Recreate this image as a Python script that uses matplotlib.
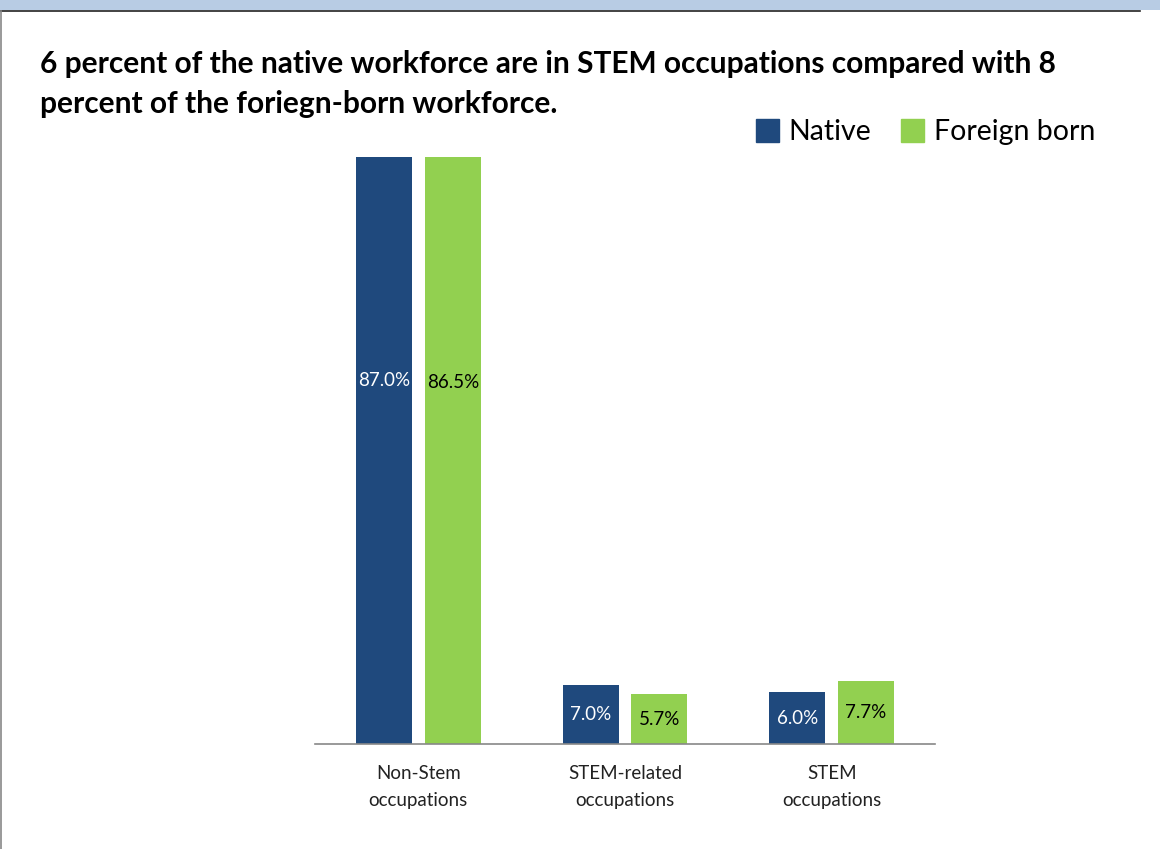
import matplotlib
matplotlib.use("Agg")
import matplotlib.pyplot as plt
from matplotlib.patches import Rectangle
from matplotlib.lines import Line2D

categories = ["Non-Stem\noccupations", "STEM-related\noccupations", "STEM\noccupations"]
native = [87.0, 7.0, 6.0]
foreign = [86.5, 5.7, 7.7]
series_names = ["Native", "Foreign born"]
title = "6 percent of the native workforce are in STEM occupations compared with 8\npercent of the foriegn-born workforce."

NAVY = "#1F497D"
GREEN = "#92D050"
BASE = -1.8
W = 1160; H = 849

plt.rcParams['font.family'] = ['Lato', 'DejaVu Sans']
fig = plt.figure(figsize=(W/100, H/100), dpi=100)

# frame decorations
fig.patches.append(Rectangle((0, 1 - 10/H), 1, 10/H, transform=fig.transFigure,
                             facecolor="#B8CCE4", edgecolor="none"))
fig.lines.append(Line2D([0, 1140/W], [1 - 10.5/H, 1 - 10.5/H], transform=fig.transFigure,
                        color="#222222", lw=1.2))
fig.lines.append(Line2D([0.6/W, 0.6/W], [0, 1 - 10.5/H], transform=fig.transFigure,
                        color="#888888", lw=1.2))

ax = fig.add_axes([315/W, 1 - 744/H, 620/W, 587/H])
x = list(range(len(categories)))
bw = 56/207
off = 34.5/207
for i in x:
    for v, dx, col, tc in ((native[i], -off, NAVY, "white"), (foreign[i], off, GREEN, "black")):
        ax.bar(i + dx, v - BASE, bottom=BASE, width=bw, color=col)
        frac = 0.5 if v < 50 else 0.615
        ax.text(i + dx, BASE + (v - BASE) * frac, f"{v:.1f}%", ha="center", va="center",
                color=tc, fontsize=13.5)

ax.set_xlim(-0.5, len(categories) - 0.5)
ax.set_ylim(BASE, min(foreign[0], native[0]))
for s in ("top", "right", "left"):
    ax.spines[s].set_visible(False)
ax.spines["bottom"].set_color("#888888")
ax.spines["bottom"].set_linewidth(1.2)
ax.set_yticks([])
ax.set_xticks(x)
ax.set_xticklabels(categories, fontsize=13.5, color="#222222", linespacing=1.75)
ax.tick_params(axis="x", length=0, pad=15)

fig.text(40/W, 1 - 50/H, title, ha="left", va="top", fontsize=21.5, fontweight="bold",
         linespacing=1.5)

# legend
handles = [Rectangle((0, 0), 1, 1, color=NAVY), Rectangle((0, 0), 1, 1, color=GREEN)]
fig.legend(handles, series_names, loc="center right", bbox_to_anchor=(1121/W, 1 - 132/H),
           ncol=2, frameon=False, fontsize=20.5, handlelength=0.8, handleheight=0.85,
           handletextpad=0.35, columnspacing=1.05)

fig.savefig("out.png", dpi=100)
